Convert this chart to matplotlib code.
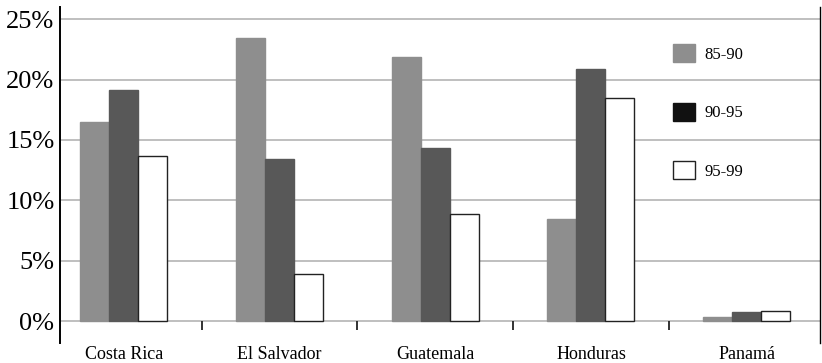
import matplotlib.pyplot as plt
import matplotlib.patches as mpatches
import numpy as np

# growth rates by country and period (%)
countries = ["Costa Rica", "El Salvador", "Guatemala", "Honduras", "Panamá"]
periods = ["85-90", "90-95", "95-99"]
p8590 = [16.5, 23.4, 21.9, 8.5, 0.35]
p9095 = [19.1, 13.4, 14.3, 20.9, 0.8]
p9599 = [13.7, 3.9, 8.9, 18.5, 0.85]

plt.rcParams['font.family'] = ['Liberation Serif', 'DejaVu Serif']

fig = plt.figure(figsize=(8.22, 3.63), dpi=100)
ax = fig.add_axes([60/822, 20/363, 760/822, 336/363])

x = np.arange(len(countries))
w = 0.186
fills = ["#8e8e8e", "#585858", "white"]
series = [p8590, p9095, p9599]

# horizontal grid behind the bars
for v in range(0, 26, 5):
    ax.axhline(v, color="#b4b4b4", lw=1.2, zorder=0)

for k, vals in enumerate(series):
    ax.bar(x - 0.28 + w * (k + 0.5), vals, width=w, color=fills[k],
           edgecolor="#222222" if k == 2 else fills[k], linewidth=1.0, zorder=2)

# small marks between the country groups
ax.vlines(x[:-1] + 0.5, -0.75, 0, color="#222222", lw=1.3, zorder=3)

ax.set_xlim(-0.41, 4.47)
ax.set_ylim(-1.8, 26.0)
ax.set_yticks(range(0, 26, 5))
ax.set_yticklabels([f"{v}%" for v in range(0, 26, 5)], fontsize=19)
ax.set_xticks(x)
ax.set_xticklabels(countries, fontsize=13)
ax.tick_params(axis="y", length=0, pad=4)
ax.tick_params(axis="x", length=0, pad=2)
ax.spines["top"].set_visible(False)
ax.spines["bottom"].set_visible(False)
ax.spines["left"].set_linewidth(1.4)
ax.spines["right"].set_linewidth(1.0)

handles = [mpatches.Patch(facecolor="#8e8e8e", edgecolor="#8e8e8e"),
           mpatches.Patch(facecolor="#111111", edgecolor="#111111"),
           mpatches.Patch(facecolor="white", edgecolor="#222222")]
ax.legend(handles, periods, loc="upper left", bbox_to_anchor=(0.787, 0.935),
          frameon=False, fontsize=12, labelspacing=2.4, handlelength=1.3,
          handleheight=1.3, handletextpad=0.6)

fig.savefig("out.png", dpi=100)
